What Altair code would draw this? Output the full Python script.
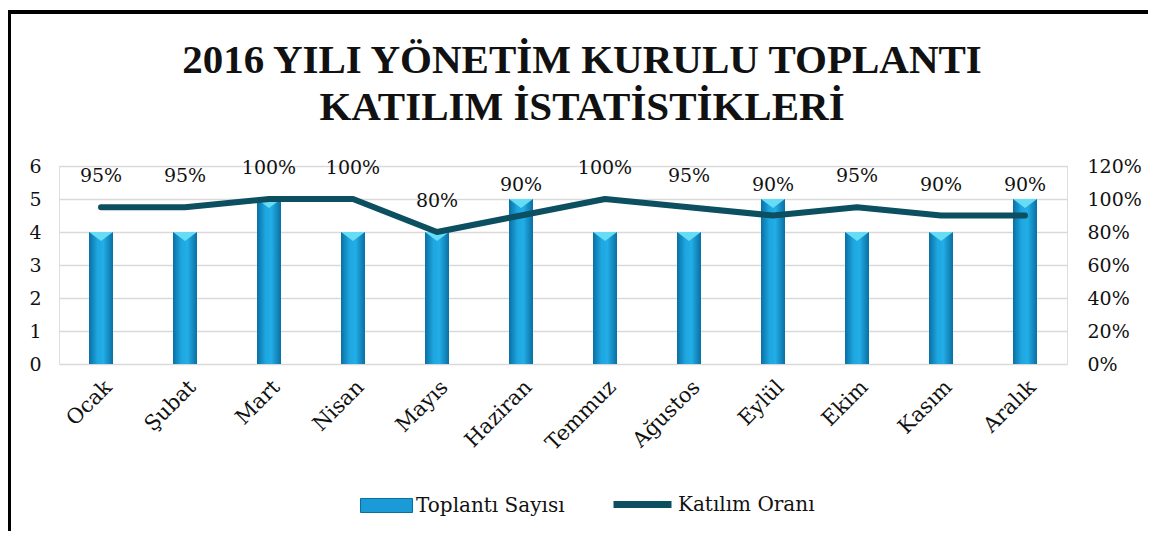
import altair as alt
import pandas as pd

# ---- data ----
months = ["Ocak", "Şubat", "Mart", "Nisan", "Mayıs", "Haziran",
          "Temmuz", "Ağustos", "Eylül", "Ekim", "Kasım", "Aralık"]
meetings = [4, 4, 5, 4, 4, 5, 4, 4, 5, 4, 4, 5]
attendance = [0.95, 0.95, 1.00, 1.00, 0.80, 0.90, 1.00, 0.95, 0.90, 0.95, 0.90, 0.90]
bar_series = "Toplantı Sayısı"
line_series = "Katılım Oranı"
left_ticks = [0, 1, 2, 3, 4, 5, 6]
right_ticks = [0, 0.2, 0.4, 0.6, 0.8, 1.0, 1.2]
title_lines = ["2016 YILI YÖNETİM KURULU TOPLANTI", "KATILIM İSTATİSTİKLERİ"]

df = pd.DataFrame({"month": months, "meetings": meetings, "rate": attendance,
                   "bs": bar_series, "ls": line_series})

FONT = "DejaVu Serif"
TFONT = "Liberation Serif"
FS = 19
BAR = "#1a9ad6"
LINE = "#0b4f60"

x = alt.X("month:N", sort=months, title=None,
          axis=alt.Axis(labelAngle=-45, labelFontSize=21, labelFont=FONT,
                        labelColor="#111", domain=False, ticks=False, labelPadding=12))
yL = alt.Y("meetings:Q", title=None, scale=alt.Scale(domain=[0, 6]),
           axis=alt.Axis(orient="left", values=left_ticks, grid=True, gridColor="#d9d9d9",
                         gridWidth=1.5, domain=False, ticks=False, labelFontSize=FS,
                         labelFont=FONT, labelColor="#111", labelPadding=18))
yR = alt.Y("rate:Q", title=None, scale=alt.Scale(domain=[0, 1.2]),
           axis=alt.Axis(orient="right", values=right_ticks, format=".0%", grid=False,
                         domain=False, ticks=False, labelFontSize=FS, labelFont=FONT,
                         labelColor="#111", labelPadding=20))

base = alt.Chart(df)

bars = base.mark_bar(size=24).encode(
    x=x, y=yL,
    fill=alt.Fill("bs:N", scale=alt.Scale(domain=[bar_series], range=[BAR]),
                  legend=alt.Legend(title=None, orient="none", legendX=301, legendY=313,
                                    symbolType="M-1,-0.27L1,-0.27L1,0.27L-1,0.27Z",
                                    symbolSize=2704, symbolStrokeColor="#0b6d9c",
                                    symbolStrokeWidth=1, labelFontSize=20, labelFont=FONT,
                                    labelColor="#111", labelOffset=3, padding=0)))

grad = alt.Gradient(gradient="linear", x1=0, x2=1, y1=0, y2=0,
                    stops=[alt.GradientStop(color="#0a6fa3", offset=0),
                           alt.GradientStop(color="#1ea6e0", offset=0.35),
                           alt.GradientStop(color="#22aee6", offset=0.6),
                           alt.GradientStop(color="#0a6fa3", offset=1)])
bars_grad = base.mark_bar(size=24, fill=grad).encode(x=x, y=yL)

tops = base.mark_point(shape="M-1,0L1,0L0,0.75Z", filled=True, size=576,
                       fill="#66dcf5", opacity=1, strokeWidth=0).encode(x=x, y=yL)

line = base.mark_line(strokeWidth=6, strokeCap="round", strokeJoin="round").encode(
    x=x, y=yR,
    stroke=alt.Stroke("ls:N", scale=alt.Scale(domain=[line_series], range=[LINE]),
                      legend=alt.Legend(title=None, orient="none", legendX=551, legendY=306,
                                        symbolType="stroke", symbolSize=3364,
                                        symbolStrokeWidth=7, labelFontSize=20,
                                        labelFont=FONT, labelColor="#111",
                                        labelOffset=3, padding=0)))

labels = base.mark_text(dy=-31, fontSize=FS, font=FONT, color="#111").encode(
    x=x, y=yR, text=alt.Text("rate:Q", format=".0%"))

one = pd.DataFrame({"a": [0]})
frame = alt.Chart(one).mark_rect(
    fillOpacity=0, stroke="black", strokeWidth=4).encode(
    x=alt.value(-50), x2=alt.value(1200), y=alt.value(-154), y2=alt.value(440))

title1 = alt.Chart(one).mark_text(text=title_lines[0], font=TFONT, fontSize=41,
                                  fontWeight="bold", color="#111", baseline="middle").encode(
    x=alt.value(523), y=alt.value(-105))
title2 = alt.Chart(one).mark_text(text=title_lines[1], font=TFONT, fontSize=41,
                                  fontWeight="bold", color="#111", baseline="middle").encode(
    x=alt.value(523), y=alt.value(-58))

left = alt.layer(bars, bars_grad, tops)
right = alt.layer(line, labels)

chart = alt.layer(left, right, frame, title1, title2).resolve_scale(
    y="independent", fill="independent", stroke="independent"
).properties(
    width=1008, height=198,
    autosize=alt.AutoSizeParams(type="none"),
    padding={"left": 51, "top": 158, "right": 81, "bottom": 167},
).configure_view(stroke=None).configure(background="white")

chart.save("out.html", embed_options={"renderer": "svg", "actions": False})
